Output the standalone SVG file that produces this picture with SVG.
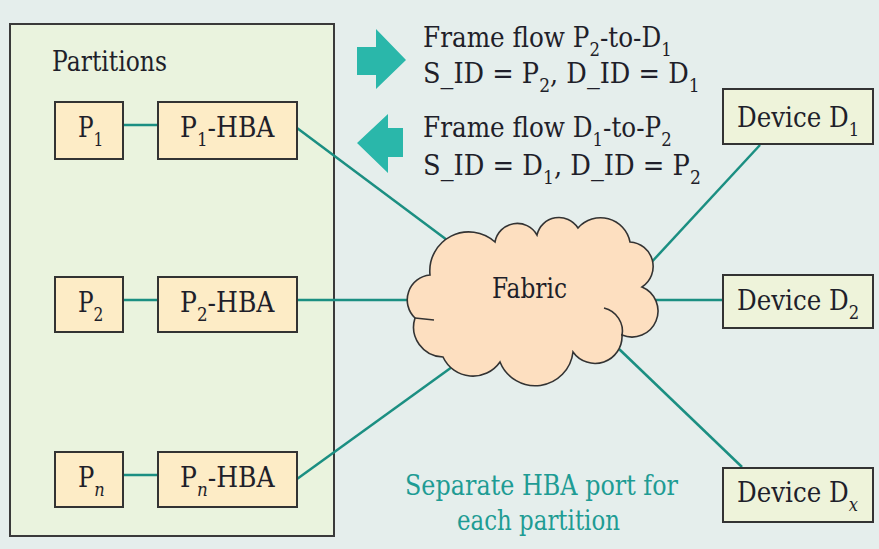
<svg xmlns="http://www.w3.org/2000/svg" width="879" height="549" viewBox="0 0 879 549">
<style>
text{font-family:'DejaVu Serif','Liberation Serif',serif;font-size:27px;fill:#1f1f2a}
.sub{font-size:18px}
.box{fill:#fdecc6;stroke:#333;stroke-width:2}
.dev{fill:#eef3da;stroke:#333;stroke-width:2}
.conn{stroke:#1b8f82;stroke-width:2.5;fill:none}
.arrow{fill:#2ab7aa}
.note{fill:#1e9c94}
.cl{fill:none;stroke:#333;stroke-width:1.6}
</style>
<rect x="0" y="0" width="879" height="549" fill="#e5eeec"/>
<g id="partitions">
<rect x="10" y="24" width="324" height="512" fill="#eaf3de" stroke="#3a3a3a" stroke-width="2"/>
<text x="52" y="71" textLength="115" lengthAdjust="spacingAndGlyphs">Partitions</text>
</g>
<g id="connectors">
<line class="conn" x1="123" y1="125" x2="158" y2="125"/>
<line class="conn" x1="123" y1="300" x2="158" y2="300"/>
<line class="conn" x1="123" y1="475" x2="158" y2="475"/>
<line class="conn" x1="297" y1="128" x2="447" y2="240"/>
<line class="conn" x1="297" y1="300" x2="410" y2="300"/>
<line class="conn" x1="297" y1="479" x2="452" y2="367"/>
<line class="conn" x1="648" y1="266" x2="760" y2="145"/>
<line class="conn" x1="655" y1="300" x2="723" y2="300"/>
<line class="conn" x1="618" y1="348" x2="742" y2="467"/>
</g>
<g id="p1"><rect class="box" x="55" y="102" width="68" height="57"/><text transform="translate(78,137) scale(0.86,1)">P<tspan class="sub" dy="9">1</tspan></text></g>
<g id="p1hba"><rect class="box" x="158" y="102" width="139" height="57"/><text transform="translate(180,137) scale(0.93,1)">P<tspan class="sub" dy="9">1</tspan><tspan dy="-9">-HBA</tspan></text></g>
<g id="p2"><rect class="box" x="55" y="277" width="68" height="55"/><text transform="translate(78,312) scale(0.86,1)">P<tspan class="sub" dy="9">2</tspan></text></g>
<g id="p2hba"><rect class="box" x="158" y="277" width="139" height="55"/><text transform="translate(180,312) scale(0.93,1)">P<tspan class="sub" dy="9">2</tspan><tspan dy="-9">-HBA</tspan></text></g>
<g id="pn"><rect class="box" x="55" y="452" width="68" height="55"/><text transform="translate(78,487) scale(0.9,1)">P<tspan class="sub" dy="9" font-style="italic">n</tspan></text></g>
<g id="pnhba"><rect class="box" x="158" y="452" width="139" height="55"/><text transform="translate(180,487) scale(0.93,1)">P<tspan class="sub" dy="9" font-style="italic">n</tspan><tspan dy="-9">-HBA</tspan></text></g>
<g id="fabric">
<path d="M 415 318 A 25 25 0 0 1 430 275 A 39 39 0 0 1 495 242 A 22.6 22.6 0 0 1 537 235 A 22.5 22.5 0 0 1 578 228 A 30 30 0 0 1 630 242 A 24.5 24.5 0 0 1 642 287 A 26 26 0 0 1 622 335 A 27 27 0 0 1 573 352 A 38 38 0 0 1 500 362 A 33 33 0 0 1 443 357 A 30 30 0 0 1 415 318 Z" fill="#fddfc0" stroke="#333" stroke-width="1.6"/>
<path class="cl" d="M 604 308 A 24 24 0 0 1 622 336"/>
<path class="cl" d="M 415 318 L 434 320"/>
<text x="492" y="298" textLength="75" lengthAdjust="spacingAndGlyphs">Fabric</text>
</g>
<g id="d1"><rect class="dev" x="723" y="89" width="150" height="55"/><text transform="translate(737,127) scale(0.91,1)">Device D<tspan class="sub" dy="9">1</tspan></text></g>
<g id="d2"><rect class="dev" x="723" y="275" width="150" height="53"/><text transform="translate(737,310) scale(0.91,1)">Device D<tspan class="sub" dy="9">2</tspan></text></g>
<g id="dx"><rect class="dev" x="723" y="468" width="150" height="54"/><text transform="translate(737,502) scale(0.91,1)">Device D<tspan class="sub" dy="9" font-style="italic">x</tspan></text></g>
<g id="flows">
<polygon class="arrow" points="357,47 376,47 376,29 406,60 376,89 376,75 357,75"/>
<polygon class="arrow" points="357,143 388,114 388,128 403,128 403,157 388,157 388,173"/>
<text transform="translate(423,47) scale(0.915,1)">Frame flow P<tspan class="sub" dy="9">2</tspan><tspan dy="-9">-to-D</tspan><tspan class="sub" dy="9">1</tspan></text>
<text transform="translate(423,83) scale(0.95,1)">S_ID = P<tspan class="sub" dy="9">2</tspan><tspan dy="-9">, D_ID = D</tspan><tspan class="sub" dy="9">1</tspan></text>
<text transform="translate(423,137) scale(0.915,1)">Frame flow D<tspan class="sub" dy="9">1</tspan><tspan dy="-9">-to-P</tspan><tspan class="sub" dy="9">2</tspan></text>
<text transform="translate(423,175) scale(0.955,1)">S_ID = D<tspan class="sub" dy="9">1</tspan><tspan dy="-9">, D_ID = P</tspan><tspan class="sub" dy="9">2</tspan></text>
</g>
<g id="note">
<text class="note" x="405" y="495" textLength="273" lengthAdjust="spacingAndGlyphs">Separate HBA port for</text>
<text class="note" x="457" y="530" textLength="163" lengthAdjust="spacingAndGlyphs">each partition</text>
</g>
</svg>
